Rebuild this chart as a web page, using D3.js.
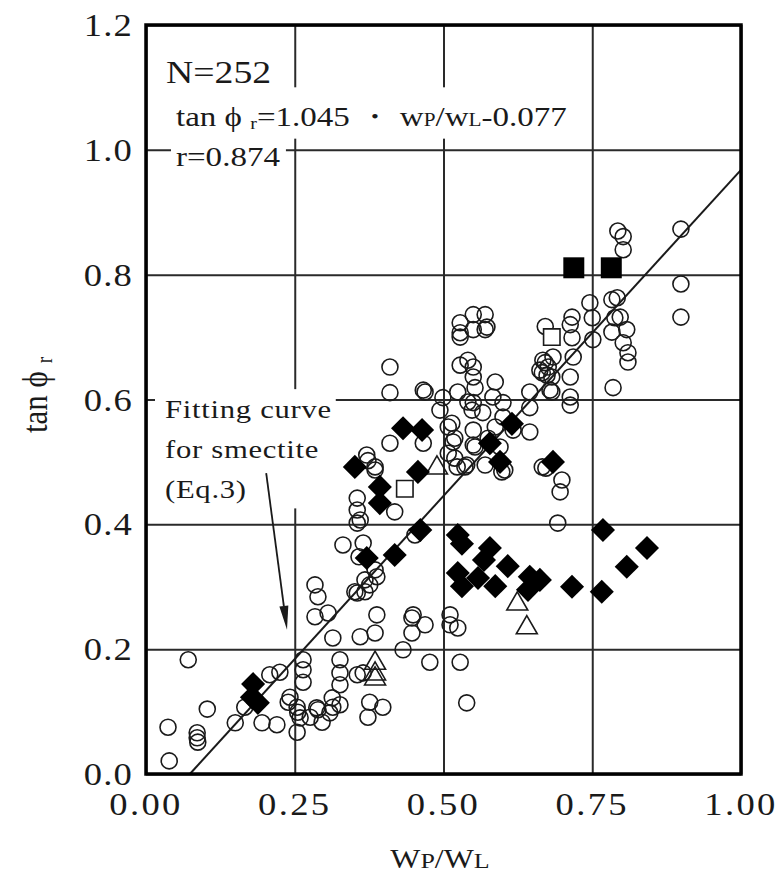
<!DOCTYPE html>
<html>
<head>
<meta charset="utf-8">
<script src="https://cdn.jsdelivr.net/npm/d3@7"></script>
<style>
  html, body { margin: 0; padding: 0; background: #fff; }
  svg { display: block; }
  text { font-family: "Liberation Serif", "Times New Roman", serif; fill: #1a1a1a; }
</style>
</head>
<body>
<svg id="chart" width="778" height="872"></svg>
<script>
// axis ticks
const xTicks = [0, 0.25, 0.5, 0.75, 1.0]
const yTicks = [0, 0.2, 0.4, 0.6, 0.8, 1.0, 1.2]

// regression: tan phi_r = 1.045 * wP/wL - 0.077
const fitSlope = 1.045
const fitIntercept = -0.077

// [wP/wL, tan phi_r]
const circles = [
  [0.071, 0.183], [0.103, 0.104], [0.037, 0.075], [0.086, 0.066], [0.086, 0.058], [0.087, 0.051], [0.039, 0.021],
  [0.150, 0.082], [0.166, 0.107], [0.208, 0.159], [0.225, 0.163], [0.195, 0.082], [0.220, 0.079], [0.239, 0.115],
  [0.254, 0.107], [0.255, 0.099], [0.254, 0.067], [0.264, 0.183], [0.264, 0.167], [0.264, 0.147], [0.276, 0.091],
  [0.287, 0.106], [0.296, 0.083], [0.314, 0.218], [0.326, 0.183], [0.326, 0.162], [0.326, 0.143], [0.326, 0.111],
  [0.313, 0.122], [0.309, 0.098], [0.355, 0.159], [0.360, 0.220], [0.376, 0.115], [0.373, 0.091], [0.385, 0.226],
  [0.284, 0.303], [0.289, 0.284], [0.284, 0.252], [0.306, 0.258], [0.351, 0.292], [0.368, 0.292], [0.376, 0.303],
  [0.388, 0.255], [0.432, 0.199], [0.447, 0.250], [0.365, 0.162], [0.242, 0.123], [0.259, 0.090], [0.289, 0.103],
  [0.314, 0.107], [0.398, 0.107],
  [0.371, 0.511], [0.373, 0.502], [0.355, 0.442], [0.355, 0.423], [0.355, 0.402], [0.331, 0.367], [0.365, 0.370],
  [0.355, 0.290], [0.388, 0.316], [0.385, 0.492], [0.418, 0.420], [0.410, 0.530], [0.466, 0.530], [0.410, 0.652],
  [0.410, 0.611], [0.469, 0.612], [0.360, 0.407], [0.452, 0.383], [0.358, 0.348], [0.385, 0.327], [0.368, 0.311],
  [0.449, 0.255], [0.469, 0.239], [0.447, 0.226], [0.477, 0.179], [0.511, 0.255], [0.511, 0.239], [0.524, 0.234],
  [0.528, 0.179], [0.539, 0.114], [0.692, 0.402],
  [0.499, 0.603], [0.494, 0.583], [0.528, 0.655], [0.550, 0.652], [0.550, 0.636], [0.524, 0.612], [0.553, 0.619],
  [0.548, 0.583], [0.587, 0.628], [0.600, 0.595], [0.645, 0.612], [0.645, 0.587], [0.645, 0.548], [0.508, 0.556],
  [0.519, 0.538], [0.519, 0.506], [0.508, 0.514], [0.523, 0.492], [0.539, 0.495], [0.550, 0.527], [0.550, 0.551],
  [0.566, 0.579], [0.575, 0.538], [0.587, 0.556], [0.595, 0.524], [0.617, 0.551], [0.570, 0.495], [0.541, 0.596],
  [0.528, 0.707], [0.570, 0.712], [0.672, 0.490], [0.603, 0.487], [0.528, 0.723], [0.550, 0.736], [0.570, 0.736],
  [0.573, 0.716], [0.550, 0.712], [0.528, 0.700], [0.671, 0.717], [0.466, 0.615], [0.541, 0.663], [0.514, 0.562],
  [0.550, 0.595], [0.583, 0.604], [0.600, 0.572], [0.679, 0.615], [0.676, 0.652], [0.674, 0.639], [0.662, 0.647],
  [0.516, 0.532], [0.553, 0.524], [0.536, 0.492], [0.598, 0.484], [0.666, 0.492], [0.385, 0.487],
  [0.899, 0.873], [0.899, 0.785], [0.899, 0.732], [0.793, 0.870], [0.802, 0.861], [0.802, 0.840], [0.746, 0.755],
  [0.792, 0.763], [0.783, 0.760], [0.797, 0.732], [0.788, 0.731], [0.808, 0.712], [0.783, 0.708], [0.802, 0.691],
  [0.810, 0.675], [0.810, 0.660], [0.785, 0.619], [0.716, 0.732], [0.713, 0.720], [0.750, 0.731], [0.751, 0.696],
  [0.716, 0.699], [0.718, 0.668], [0.684, 0.668], [0.671, 0.659], [0.713, 0.636], [0.682, 0.636], [0.682, 0.612],
  [0.713, 0.604], [0.713, 0.591], [0.667, 0.663], [0.666, 0.643], [0.699, 0.471], [0.696, 0.452]
]

const diamonds = [
  [0.180, 0.144], [0.178, 0.123], [0.188, 0.114],
  [0.351, 0.492], [0.393, 0.460], [0.393, 0.434], [0.457, 0.484], [0.432, 0.554], [0.464, 0.551],
  [0.578, 0.530], [0.595, 0.500], [0.615, 0.561], [0.684, 0.500], [0.461, 0.391], [0.418, 0.351], [0.371, 0.346],
  [0.524, 0.383], [0.531, 0.369], [0.578, 0.362], [0.568, 0.343], [0.608, 0.333], [0.524, 0.322], [0.531, 0.301],
  [0.558, 0.314], [0.587, 0.301], [0.645, 0.316], [0.642, 0.295], [0.662, 0.311], [0.716, 0.300], [0.766, 0.292],
  [0.768, 0.391], [0.808, 0.332], [0.842, 0.362]
]

const triangles = [[0.489, 0.492], [0.624, 0.274], [0.640, 0.236], [0.385, 0.179], [0.385, 0.162], [0.385, 0.154]]
const openSquares = [[0.435, 0.457], [0.682, 0.700]]
const filledSquares = [[0.719, 0.811], [0.782, 0.811]]

// annotation arrow for the smectite curve label: [from, to]
const arrowPts = [[0.202, 0.482], [0.237, 0.231]]

const svg = d3.select("#chart")
const x = d3.scaleLinear().domain([0, 1]).range([146, 741])
const y = d3.scaleLinear().domain([0, 1.2]).range([774, 25])
const K = 1.18 // the source figure is a bit wider than tall, glyphs too

// grid
const grid = svg.append("g").attr("class", "grid")
grid.append("g")
  .attr("transform", `translate(0,${y(0)})`)
  .call(d3.axisBottom(x).tickValues(xTicks).tickSize(y(1.2) - y(0)).tickFormat(""))
grid.append("g")
  .attr("transform", `translate(${x(0)},0)`)
  .call(d3.axisLeft(y).tickValues(yTicks).tickSize(x(0) - x(1)).tickFormat(""))
grid.selectAll(".domain").remove()
grid.selectAll("line").attr("stroke", "#2a2a2a").attr("stroke-width", 2)

// text helper, horizontally stretched like the source
function label (parent, px, py, size, anchor, box) {
  const g = parent.append("g").attr("transform", `translate(${px},${py}) scale(${K},1)`)
  const t = g.append("text")
    .attr("font-size", size)
    .attr("text-anchor", anchor)
  return {g, t, box}
}

function addBox (lbl, pad) {
  const b = lbl.t.node().getBBox()
  lbl.g.insert("rect", "text")
    .attr("x", b.x - pad[0] / K)
    .attr("y", b.y - pad[1])
    .attr("width", b.width + (pad[0] + pad[2]) / K)
    .attr("height", b.height + pad[1] + pad[3])
    .attr("fill", "#fff")
}

const notes = svg.append("g").attr("class", "notes")

const nLabel = label(notes, 166, 83, 32, "start")
nLabel.t.text("N=252")
addBox(nLabel, [4, 2, 4, 2])

const eqLabel = label(notes, 176, 126, 28, "start")
eqLabel.t.append("tspan").text("tan ϕ ")
eqLabel.t.append("tspan").attr("font-size", 17).attr("dy", 3).text("r")
eqLabel.t.append("tspan").attr("dy", -3).text("=1.045 ・ w")
eqLabel.t.append("tspan").attr("font-size", 18).text("P")
eqLabel.t.append("tspan").text("/w")
eqLabel.t.append("tspan").attr("font-size", 18).text("L")
eqLabel.t.append("tspan").text("-0.077")
addBox(eqLabel, [6, 14, 4, 6])

const rLabel = label(notes, 176, 166, 28, "start")
rLabel.t.text("r=0.874")
addBox(rLabel, [5, 4, 6, 4])

const fitLabel = label(notes, 165, 418, 26, "start")
const fitLines = ["Fitting curve", "for smectite", "(Eq.3)"]
fitLabel.t.selectAll("tspan").data(fitLines).join("tspan")
  .attr("x", 0)
  .attr("dy", (d, i) => i === 0 ? 0 : 40)
  .attr("letter-spacing", 0.6)
  .text(d => d)
addBox(fitLabel, [10, 6, 4, 4])

// arrow
const a0 = [x(arrowPts[0][0]), y(arrowPts[0][1])]
const a1 = [x(arrowPts[1][0]), y(arrowPts[1][1])]
const ang = Math.atan2(a1[1] - a0[1], a1[0] - a0[0])
const headLen = 24
const headW = 4.5
const base = [a1[0] - headLen * Math.cos(ang), a1[1] - headLen * Math.sin(ang)]
notes.append("line")
  .attr("x1", a0[0]).attr("y1", a0[1])
  .attr("x2", base[0]).attr("y2", base[1])
  .attr("stroke", "#1a1a1a").attr("stroke-width", 1.8)
notes.append("path")
  .attr("d", `M${a1[0]},${a1[1]}L${base[0] + headW * Math.sin(ang)},${base[1] - headW * Math.cos(ang)}L${base[0] - headW * Math.sin(ang)},${base[1] + headW * Math.cos(ang)}Z`)
  .attr("fill", "#1a1a1a")

// points
const marks = svg.append("g").attr("class", "marks")

marks.selectAll("circle.pt").data(circles).join("circle")
  .attr("class", "pt")
  .attr("cx", d => x(d[0]))
  .attr("cy", d => y(d[1]))
  .attr("r", 8)
  .attr("fill", "none")
  .attr("stroke", "#1a1a1a")
  .attr("stroke-width", 1.6)

// fitted line, from the x-axis crossing to wP/wL = 1
const x0 = -fitIntercept / fitSlope
marks.append("line")
  .attr("x1", x(x0)).attr("y1", y(0))
  .attr("x2", x(1)).attr("y2", y(fitSlope + fitIntercept))
  .attr("stroke", "#1a1a1a").attr("stroke-width", 2)

marks.selectAll("path.tri").data(triangles).join("path")
  .attr("class", "tri")
  .attr("transform", d => `translate(${x(d[0])},${y(d[1]) + 1})`)
  .attr("d", d3.symbol(d3.symbolTriangle, 190))
  .attr("fill", "none")
  .attr("stroke", "#1a1a1a")
  .attr("stroke-width", 1.6)

marks.selectAll("path.osq").data(openSquares).join("path")
  .attr("class", "osq")
  .attr("transform", d => `translate(${x(d[0])},${y(d[1])})`)
  .attr("d", d3.symbol(d3.symbolSquare, 270))
  .attr("fill", "#fff")
  .attr("stroke", "#1a1a1a")
  .attr("stroke-width", 1.6)

marks.selectAll("path.fsq").data(filledSquares).join("path")
  .attr("class", "fsq")
  .attr("transform", d => `translate(${x(d[0])},${y(d[1])})`)
  .attr("d", d3.symbol(d3.symbolSquare, 440))
  .attr("fill", "#000")

marks.selectAll("path.dia").data(diamonds).join("path")
  .attr("class", "dia")
  .attr("transform", d => `translate(${x(d[0])},${y(d[1])}) rotate(45)`)
  .attr("d", d3.symbol(d3.symbolSquare, 290))
  .attr("fill", "#000")

// frame
svg.append("rect")
  .attr("x", x(0)).attr("y", y(1.2))
  .attr("width", x(1) - x(0)).attr("height", y(0) - y(1.2))
  .attr("fill", "none")
  .attr("stroke", "#000")
  .attr("stroke-width", 3.5)

// tick labels
const axes = svg.append("g").attr("class", "axes")
yTicks.forEach(v => {
  const l = label(axes, 133, y(v) + 11, 31, "end")
  l.t.attr("letter-spacing", 1).text(d3.format(".1f")(v))
})
xTicks.forEach(v => {
  const l = label(axes, x(v), 815, 31, "middle")
  l.t.attr("letter-spacing", 2).text(d3.format(".2f")(v))
})

// axis titles
const xt = label(axes, 440, 868, 27, "middle")
xt.t.append("tspan").text("W")
xt.t.append("tspan").attr("font-size", 22).text("P")
xt.t.append("tspan").text("/W")
xt.t.append("tspan").attr("font-size", 22).text("L")

const yt = axes.append("g").attr("transform", `translate(47,395) scale(${K},1) rotate(-90)`)
const ytt = yt.append("text").attr("font-size", 31).attr("text-anchor", "middle")
ytt.append("tspan").text("tan ϕ ")
ytt.append("tspan").attr("font-size", 19).attr("dy", 4).text("r")
</script>
</body>
</html>
